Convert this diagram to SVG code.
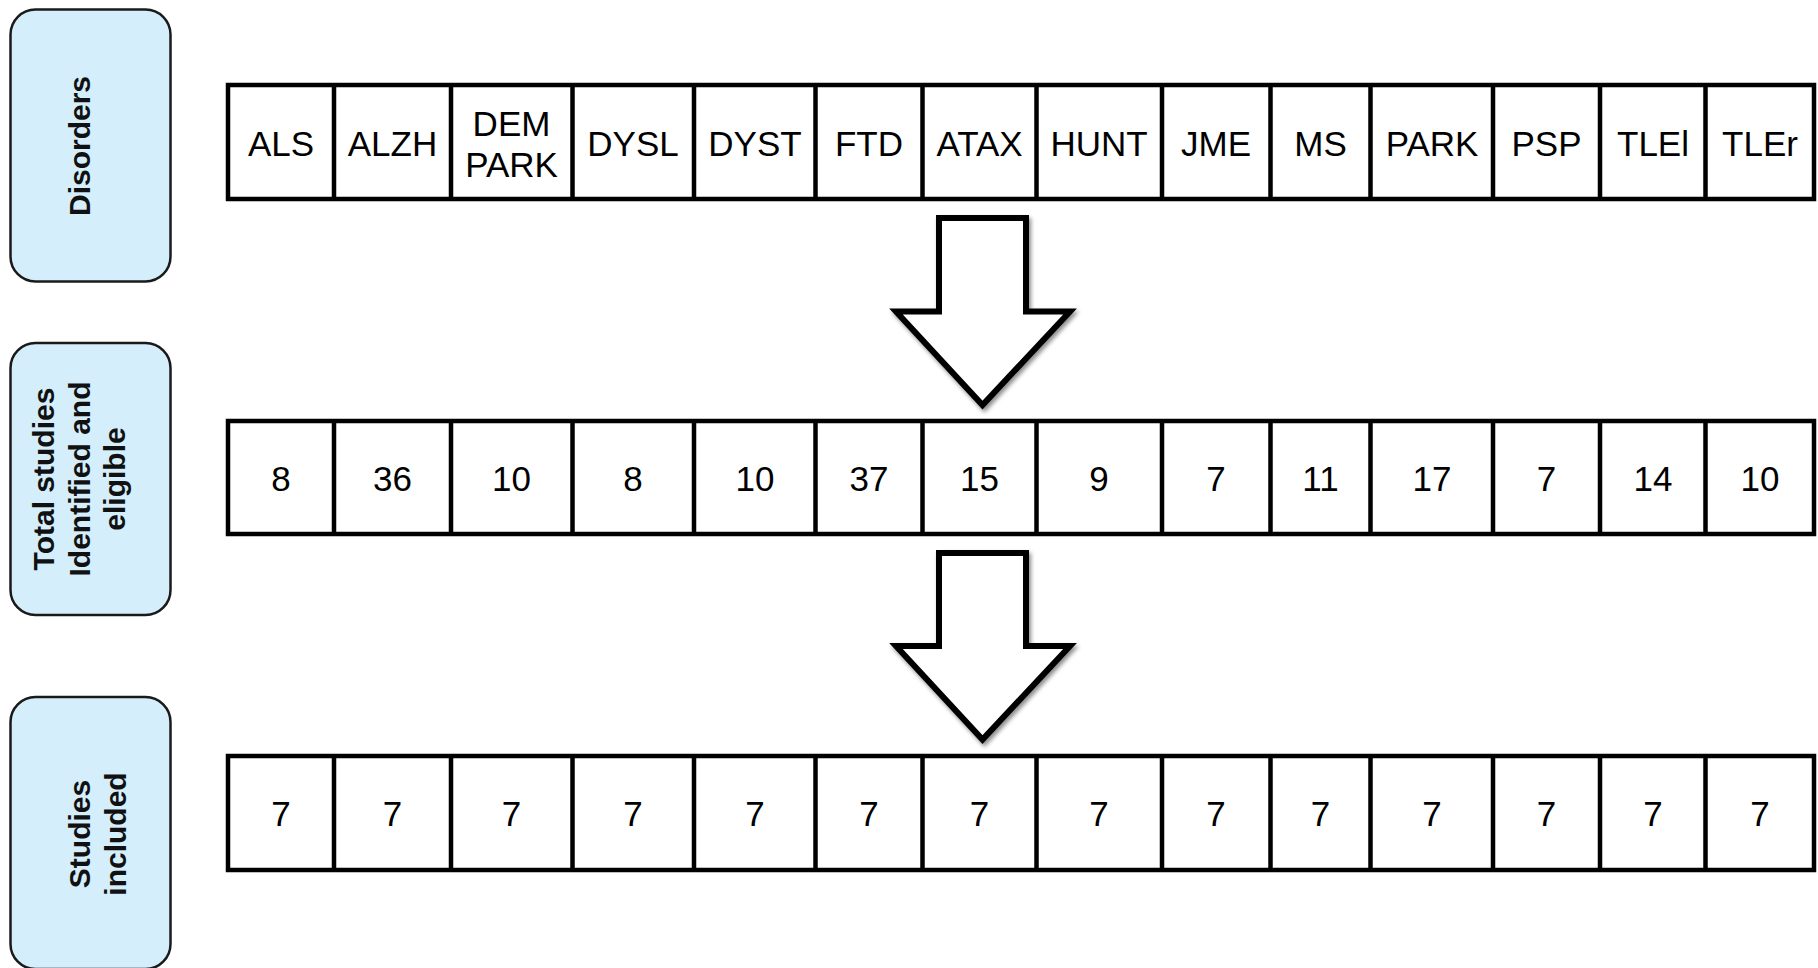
<svg xmlns="http://www.w3.org/2000/svg" width="1818" height="968" viewBox="0 0 1818 968">
  <defs>
    <filter id="soft-shadow" x="-20%" y="-20%" width="140%" height="140%">
      <feDropShadow dx="2" dy="3" stdDeviation="2" flood-color="#000" flood-opacity="0.45"/>
    </filter>
    <!-- grid of 14 columns shared by all three rows -->
    <path id="col-dividers" d="M334 0V114M451 0V114M572.5 0V114M694 0V114M815.5 0V114M922.5 0V114M1036.5 0V114M1162 0V114M1270.5 0V114M1370.5 0V114M1493 0V114M1600 0V114M1705.5 0V114"/>
  </defs>
  <style>
    .stage { fill: #d4eefc; stroke: #1a1a1a; stroke-width: 2.5; }
    .stage-text { font-family: "Liberation Sans", Arial, sans-serif; font-weight: bold; font-size: 30px; fill: #111; text-anchor: middle; }
    .row-frame { fill: #fff; stroke: #000; stroke-width: 4.5; }
    .row-lines { fill: none; stroke: #000; stroke-width: 4.5; }
    .cell { font-family: "Liberation Sans", Arial, sans-serif; font-size: 35px; fill: #000; text-anchor: middle; dominant-baseline: central; }
    .flow-arrow { fill: #fff; stroke: #000; stroke-width: 6; stroke-linejoin: miter; filter: url(#soft-shadow); }
  </style>

  <rect width="1818" height="968" fill="#fff"/>

  <!-- stage labels on the left -->
  <g id="stage-disorders">
    <rect class="stage" x="10.5" y="9.5" width="160" height="272" rx="25" ry="25"/>
    <text class="stage-text" transform="translate(90,146) rotate(-90)">Disorders</text>
  </g>
  <g id="stage-identified">
    <rect class="stage" x="10.5" y="343" width="160" height="272" rx="25" ry="25"/>
    <text class="stage-text" transform="translate(54,479) rotate(-90)">Total studies</text>
    <text class="stage-text" transform="translate(90,479) rotate(-90)">Identified and</text>
    <text class="stage-text" transform="translate(125,479) rotate(-90)">eligible</text>
  </g>
  <g id="stage-included">
    <rect class="stage" x="10.5" y="697" width="160" height="272" rx="25" ry="25"/>
    <text class="stage-text" transform="translate(90,834) rotate(-90)">Studies</text>
    <text class="stage-text" transform="translate(126,834) rotate(-90)">included</text>
  </g>

  <!-- row 1: disorder abbreviations -->
  <g id="row-disorders">
    <rect class="row-frame" x="228" y="85" width="1586" height="114"/>
    <use href="#col-dividers" class="row-lines" transform="translate(0,85)"/>
    <text class="cell" x="281" y="143">ALS</text>
    <text class="cell" x="392.5" y="143">ALZH</text>
    <text class="cell" x="511.5" y="123">DEM</text>
    <text class="cell" x="511.5" y="164">PARK</text>
    <text class="cell" x="633" y="143">DYSL</text>
    <text class="cell" x="755" y="143">DYST</text>
    <text class="cell" x="869" y="143">FTD</text>
    <text class="cell" x="979.5" y="143">ATAX</text>
    <text class="cell" x="1099" y="143">HUNT</text>
    <text class="cell" x="1216" y="143">JME</text>
    <text class="cell" x="1320.5" y="143">MS</text>
    <text class="cell" x="1432" y="143">PARK</text>
    <text class="cell" x="1546.5" y="143">PSP</text>
    <text class="cell" x="1653" y="143">TLEl</text>
    <text class="cell" x="1760" y="143">TLEr</text>
  </g>

  <!-- row 2: studies identified and eligible -->
  <g id="row-identified">
    <rect class="row-frame" x="228" y="421" width="1586" height="113"/>
    <use href="#col-dividers" class="row-lines" transform="translate(0,421) scale(1,0.9912)"/>
    <text class="cell" x="281" y="478">8</text>
    <text class="cell" x="392.5" y="478">36</text>
    <text class="cell" x="511.5" y="478">10</text>
    <text class="cell" x="633" y="478">8</text>
    <text class="cell" x="755" y="478">10</text>
    <text class="cell" x="869" y="478">37</text>
    <text class="cell" x="979.5" y="478">15</text>
    <text class="cell" x="1099" y="478">9</text>
    <text class="cell" x="1216" y="478">7</text>
    <text class="cell" x="1320.5" y="478">11</text>
    <text class="cell" x="1432" y="478">17</text>
    <text class="cell" x="1546.5" y="478">7</text>
    <text class="cell" x="1653" y="478">14</text>
    <text class="cell" x="1760" y="478">10</text>
  </g>

  <!-- row 3: studies included -->
  <g id="row-included">
    <rect class="row-frame" x="228" y="756" width="1586" height="114"/>
    <use href="#col-dividers" class="row-lines" transform="translate(0,756)"/>
    <text class="cell" x="281" y="813">7</text>
    <text class="cell" x="392.5" y="813">7</text>
    <text class="cell" x="511.5" y="813">7</text>
    <text class="cell" x="633" y="813">7</text>
    <text class="cell" x="755" y="813">7</text>
    <text class="cell" x="869" y="813">7</text>
    <text class="cell" x="979.5" y="813">7</text>
    <text class="cell" x="1099" y="813">7</text>
    <text class="cell" x="1216" y="813">7</text>
    <text class="cell" x="1320.5" y="813">7</text>
    <text class="cell" x="1432" y="813">7</text>
    <text class="cell" x="1546.5" y="813">7</text>
    <text class="cell" x="1653" y="813">7</text>
    <text class="cell" x="1760" y="813">7</text>
  </g>

  <!-- block arrows between rows -->
  <g id="connectors">
    <polygon class="flow-arrow" points="939,218 1026,218 1026,311.5 1070,311.5 982.5,405 896,311.5 939,311.5"/>
    <polygon class="flow-arrow" points="939,553 1026,553 1026,646 1070,646 982.5,739.5 896,646 939,646"/>
  </g>
</svg>
